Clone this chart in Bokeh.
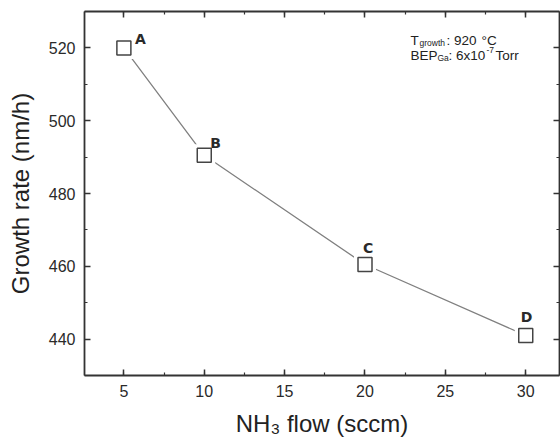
import numpy as np
from bokeh.plotting import figure
from bokeh.models import Range1d, LinearAxis, SingleIntervalTicker, Label, ColumnDataSource
from bokeh.embed import file_html
from bokeh.resources import INLINE
from bokeh.core.properties import value

# ---- data ----
nh3_flow = [5, 10, 20, 30]
growth_rate = [520, 490.5, 460.5, 441]
point_labels = ["A", "B", "C", "D"]
x_tick_interval = 5
y_tick_interval = 20

# label placement (screen px, relative to the point)
label_dx = [11, 6, -2, -5]
label_dy = [-9, -12, -16, -18]

X0, X1 = 2.55, 32.1
Y0, Y1 = 430, 530

AXIS_COLOR = "#333333"
FONT = "Liberation Sans"

p = figure(width=560, height=443, output_backend="svg", toolbar_location=None,
           x_range=Range1d(X0, X1), y_range=Range1d(Y0, Y1),
           min_border_left=84, min_border_right=1, min_border_top=11, min_border_bottom=68,
           background_fill_color="white", border_fill_color="white")
p.grid.visible = False
p.outline_line_color = None

def style_axis(ax, show_labels):
    ax.axis_line_color = AXIS_COLOR
    ax.axis_line_width = 1.8
    ax.major_tick_line_color = AXIS_COLOR
    ax.minor_tick_line_color = AXIS_COLOR
    ax.major_tick_line_width = 1.5
    ax.minor_tick_line_width = 1.2
    ax.major_tick_in = 6
    ax.major_tick_out = 0
    ax.minor_tick_in = 3
    ax.minor_tick_out = 0
    if show_labels:
        ax.major_label_text_font = FONT
        ax.major_label_text_font_size = "16px"
        ax.major_label_text_color = "#2a2a2a"
        ax.major_label_standoff = 9
        ax.axis_label_text_font = FONT
        ax.axis_label_text_font_size = "24px"
        ax.axis_label_text_font_style = "normal"
        ax.axis_label_text_color = "#222222"
        ax.axis_label_standoff = 10
    else:
        ax.axis_label = None
        ax.major_label_text_font_size = "0px"
        ax.major_label_standoff = 0
        ax.major_label_text_alpha = 0

xb = p.xaxis[0]
xb.ticker = SingleIntervalTicker(interval=x_tick_interval, num_minor_ticks=2)
style_axis(xb, True)
xb.axis_label = "NH\u2083 flow (sccm)"
yl = p.yaxis[0]
yl.ticker = SingleIntervalTicker(interval=y_tick_interval, num_minor_ticks=2)
style_axis(yl, True)
yl.axis_label = "Growth rate (nm/h)"
yl.axis_label_standoff = 12

xt = LinearAxis(ticker=SingleIntervalTicker(interval=x_tick_interval, num_minor_ticks=2))
style_axis(xt, False)
p.add_layout(xt, "above")
yr = LinearAxis(ticker=SingleIntervalTicker(interval=y_tick_interval, num_minor_ticks=2))
style_axis(yr, False)
p.add_layout(yr, "right")

src = ColumnDataSource(dict(x=nh3_flow, y=growth_rate, lab=point_labels,
                            dx=label_dx, dy=label_dy))

p.line("x", "y", source=src, line_color="#808080", line_width=1.3)
# white halo so the line stops short of the markers
p.scatter("x", "y", source=src, marker="square", size=22, fill_color="white", line_color=None)
p.scatter("x", "y", source=src, marker="square", size=14, fill_color="white",
          line_color="#444444", line_width=1.5)
p.text("x", "y", text="lab", source=src, x_offset="dx", y_offset="dy",
       text_font=value("DejaVu Sans"), text_font_style="bold", text_font_size="14px",
       text_color="#2a2a2a", text_align="left", text_baseline="alphabetic")

def lab(text, x, y, dx, dy, size):
    p.add_layout(Label(x=x, y=y, x_offset=dx, y_offset=dy, text=text, text_font=FONT,
                       text_font_size=size, text_color="#222222",
                       text_align="left", text_baseline="alphabetic"))

# growth conditions annotation (top right)
lab("T", X1, Y1, -149, -29, "13.5px")
lab("growth", X1, Y1, -140, -31, "8.5px")
lab(": 920", X1, Y1, -113, -29, "13.5px")
lab("°C", X1, Y1, -78, -29, "13.5px")
lab("BEP", X1, Y1, -149, -44, "13.5px")
lab("Ga", X1, Y1, -122, -46, "8.5px")
lab(": 6x10", X1, Y1, -111, -44, "13.5px")
lab("-7", X1, Y1, -73, -38, "8.5px")
lab("Torr", X1, Y1, -64, -44, "13.5px")

open("out.html", "w").write(file_html(p, INLINE))
